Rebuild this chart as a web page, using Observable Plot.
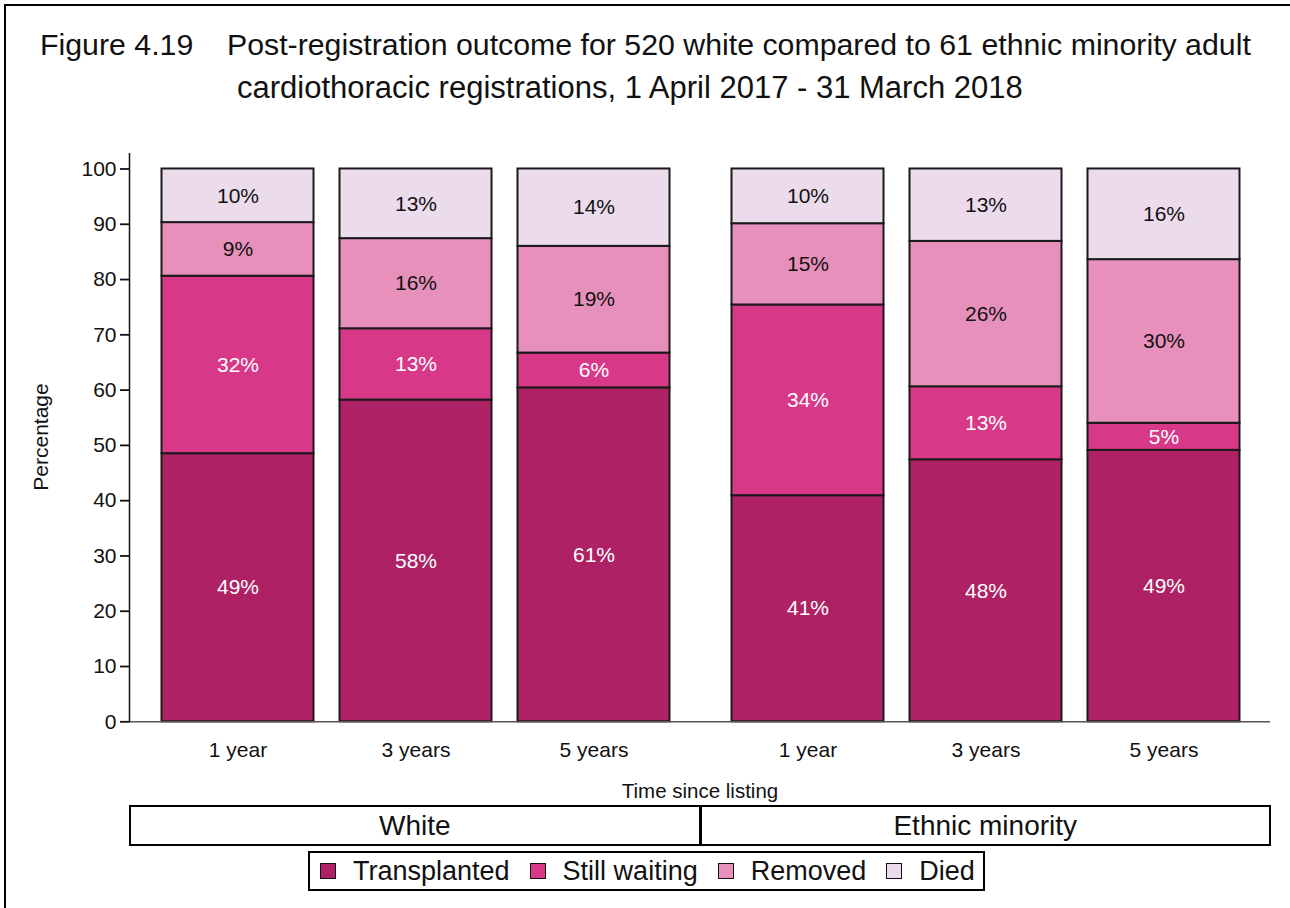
<!DOCTYPE html>
<html>
<head>
<meta charset="utf-8">
<script src="https://cdn.jsdelivr.net/npm/d3@7"></script>
<script src="https://cdn.jsdelivr.net/npm/@observablehq/plot@0.6"></script>
<style>
  html, body { margin: 0; padding: 0; background: #fff; }
  body { font-family: "Liberation Sans", Arial, sans-serif; color: #111; }
  #wrap { position: relative; width: 1290px; height: 908px; overflow: hidden; background: #fff; }
  #frame { position: absolute; left: 4px; top: 4px; width: 1400px; height: 1000px;
           border-left: 2px solid #000; border-top: 2px solid #000; box-sizing: border-box; }
  #chart { position: absolute; left: 0; top: 0; }
  .t { position: absolute; white-space: pre; line-height: 1; }
  #ylabel { position: absolute; left: 40px; top: 437px; font-size: 21px; line-height: 1;
            transform: translate(-50%, -50%) rotate(-90deg); white-space: nowrap; }
  #groups { position: absolute; left: 129px; top: 805px; width: 1142px; height: 41px;
            border: 2px solid #000; box-sizing: border-box; display: flex; }
  #groups div { flex: 1; text-align: center; font-size: 28px; line-height: 37px; }
  #groups div + div { border-left: 3px solid #000; }
  #legend { position: absolute; left: 308px; top: 851px; height: 40px; box-sizing: border-box;
            border: 2px solid #000; display: flex; align-items: center; padding: 0 8px 0 10px;
            font-size: 27px; }
  .item { display: flex; align-items: center; margin-right: 20px; }
  .item:last-child { margin-right: 0; }
  .sw { width: 14px; height: 14px; border: 1.5px solid #111; margin-right: 17px; }
</style>
</head>
<body>
<div id="wrap">
  <div id="frame"></div>
  <div id="chart"></div>
  <div class="t" id="title1" style="left:40px; top:29.6px; font-size:30.3px;">Figure 4.19    Post-registration outcome for 520 white compared to 61 ethnic minority adult</div>
  <div class="t" id="title2" style="left:237px; top:72.2px; font-size:31px;">cardiothoracic registrations, 1 April 2017 - 31 March 2018</div>
  <div id="ylabel">Percentage</div>
  <div class="t" id="xlabel" style="left:500px; width:400px; text-align:center; top:781px; font-size:20.5px;">Time since listing</div>
  <div id="groups"></div>
  <div id="legend"></div>
</div>
<script>
// ---- data ----
const groups = ["White", "Ethnic minority"];
const times = ["1 year", "3 years", "5 years"];
const outcomes = ["Transplanted", "Still waiting", "Removed", "Died"];

// percentages per bar, order: White 1y, 3y, 5y, Ethnic minority 1y, 3y, 5y
const transplanted = [48.5, 58.2, 60.4, 40.9, 47.4, 49.1];
const stillWaiting = [32.1, 12.9, 6.3, 34.5, 13.2, 4.9];
const removed      = [9.7, 16.3, 19.3, 14.7, 26.3, 29.6];
const died         = [9.7, 12.6, 14.0, 9.9, 13.1, 16.4];

// printed labels (%)
const transplantedLabels = [49, 58, 61, 41, 48, 49];
const stillWaitingLabels = [32, 13, 6, 34, 13, 5];
const removedLabels      = [9, 16, 19, 15, 26, 30];
const diedLabels         = [10, 13, 14, 10, 13, 16];

const yTicks = [0, 10, 20, 30, 40, 50, 60, 70, 80, 90, 100];

// ---- styles ----
const barColors = ["#ae2265", "#d83888", "#e790bb", "#ebdbeb"];
const whiteLabelOutcomes = new Set(["Transplanted", "Still waiting"]);

// ---- table ----
const seriesValues = [transplanted, stillWaiting, removed, died];
const seriesLabels = [transplantedLabels, stillWaitingLabels, removedLabels, diedLabels];
const rows = [];
groups.forEach((g, gi) => {
  times.forEach((t, ti) => {
    const i = gi * times.length + ti;
    outcomes.forEach((o, oi) => {
      rows.push({group: g, time: t, outcome: o, value: seriesValues[oi][i], label: seriesLabels[oi][i] + "%"});
    });
  });
});

const H = 908;
const plot = Plot.plot({
  width: 1290,
  height: H,
  marginLeft: 129.5,
  marginRight: 19,
  marginTop: 153,
  marginBottom: H - 721.3,
  style: {fontFamily: "'Liberation Sans', Arial, sans-serif", fontSize: "21px", color: "#111", background: "transparent"},
  fx: {domain: groups, padding: 0, axis: null, label: null},
  x: {domain: times, paddingInner: 0.1466, paddingOuter: 0.17, tickSize: 0, tickPadding: 20, label: null},
  y: {domain: [0, 102.8], ticks: yTicks, tickSize: 10, tickPadding: 4, label: null},
  color: {domain: outcomes, range: barColors},
  marks: [
    Plot.barY(rows, {fx: "group", x: "time", y: "value", z: "outcome", fill: "outcome",
                     stroke: "#1a1a1a", strokeWidth: 2, inset: 0}),
    Plot.text(rows, Plot.stackY({fx: "group", x: "time", y: "value", z: "outcome",
                     text: d => whiteLabelOutcomes.has(d.outcome) ? d.label : "",
                     fill: "#ffffff", fontSize: 21})),
    Plot.text(rows, Plot.stackY({fx: "group", x: "time", y: "value", z: "outcome",
                     text: d => whiteLabelOutcomes.has(d.outcome) ? "" : d.label,
                     fill: "#111111", fontSize: 21})),
    Plot.ruleY([0], {stroke: "#555", strokeWidth: 1.5})
  ]
});
document.getElementById("chart").appendChild(plot);

// y-axis line through the plot's own y scale
const ys = plot.scale("y");
d3.select(plot).append("line")
  .attr("x1", 129.5).attr("x2", 129.5)
  .attr("y1", ys.apply(102.8)).attr("y2", ys.apply(0))
  .attr("stroke", "#111").attr("stroke-width", 1.5);
d3.select(plot).selectAll("[aria-label='y-axis tick'] path, [aria-label='y-axis'] path")
  .attr("stroke-width", 1.8);

// group boxes
const gbox = document.getElementById("groups");
groups.forEach(g => { const d = document.createElement("div"); d.textContent = g; gbox.appendChild(d); });

// legend
const leg = document.getElementById("legend");
outcomes.forEach((o, i) => {
  const it = document.createElement("div"); it.className = "item";
  const sw = document.createElement("div"); sw.className = "sw"; sw.style.background = barColors[i];
  const tx = document.createElement("span"); tx.textContent = o;
  it.appendChild(sw); it.appendChild(tx); leg.appendChild(it);
});
</script>
</body>
</html>
